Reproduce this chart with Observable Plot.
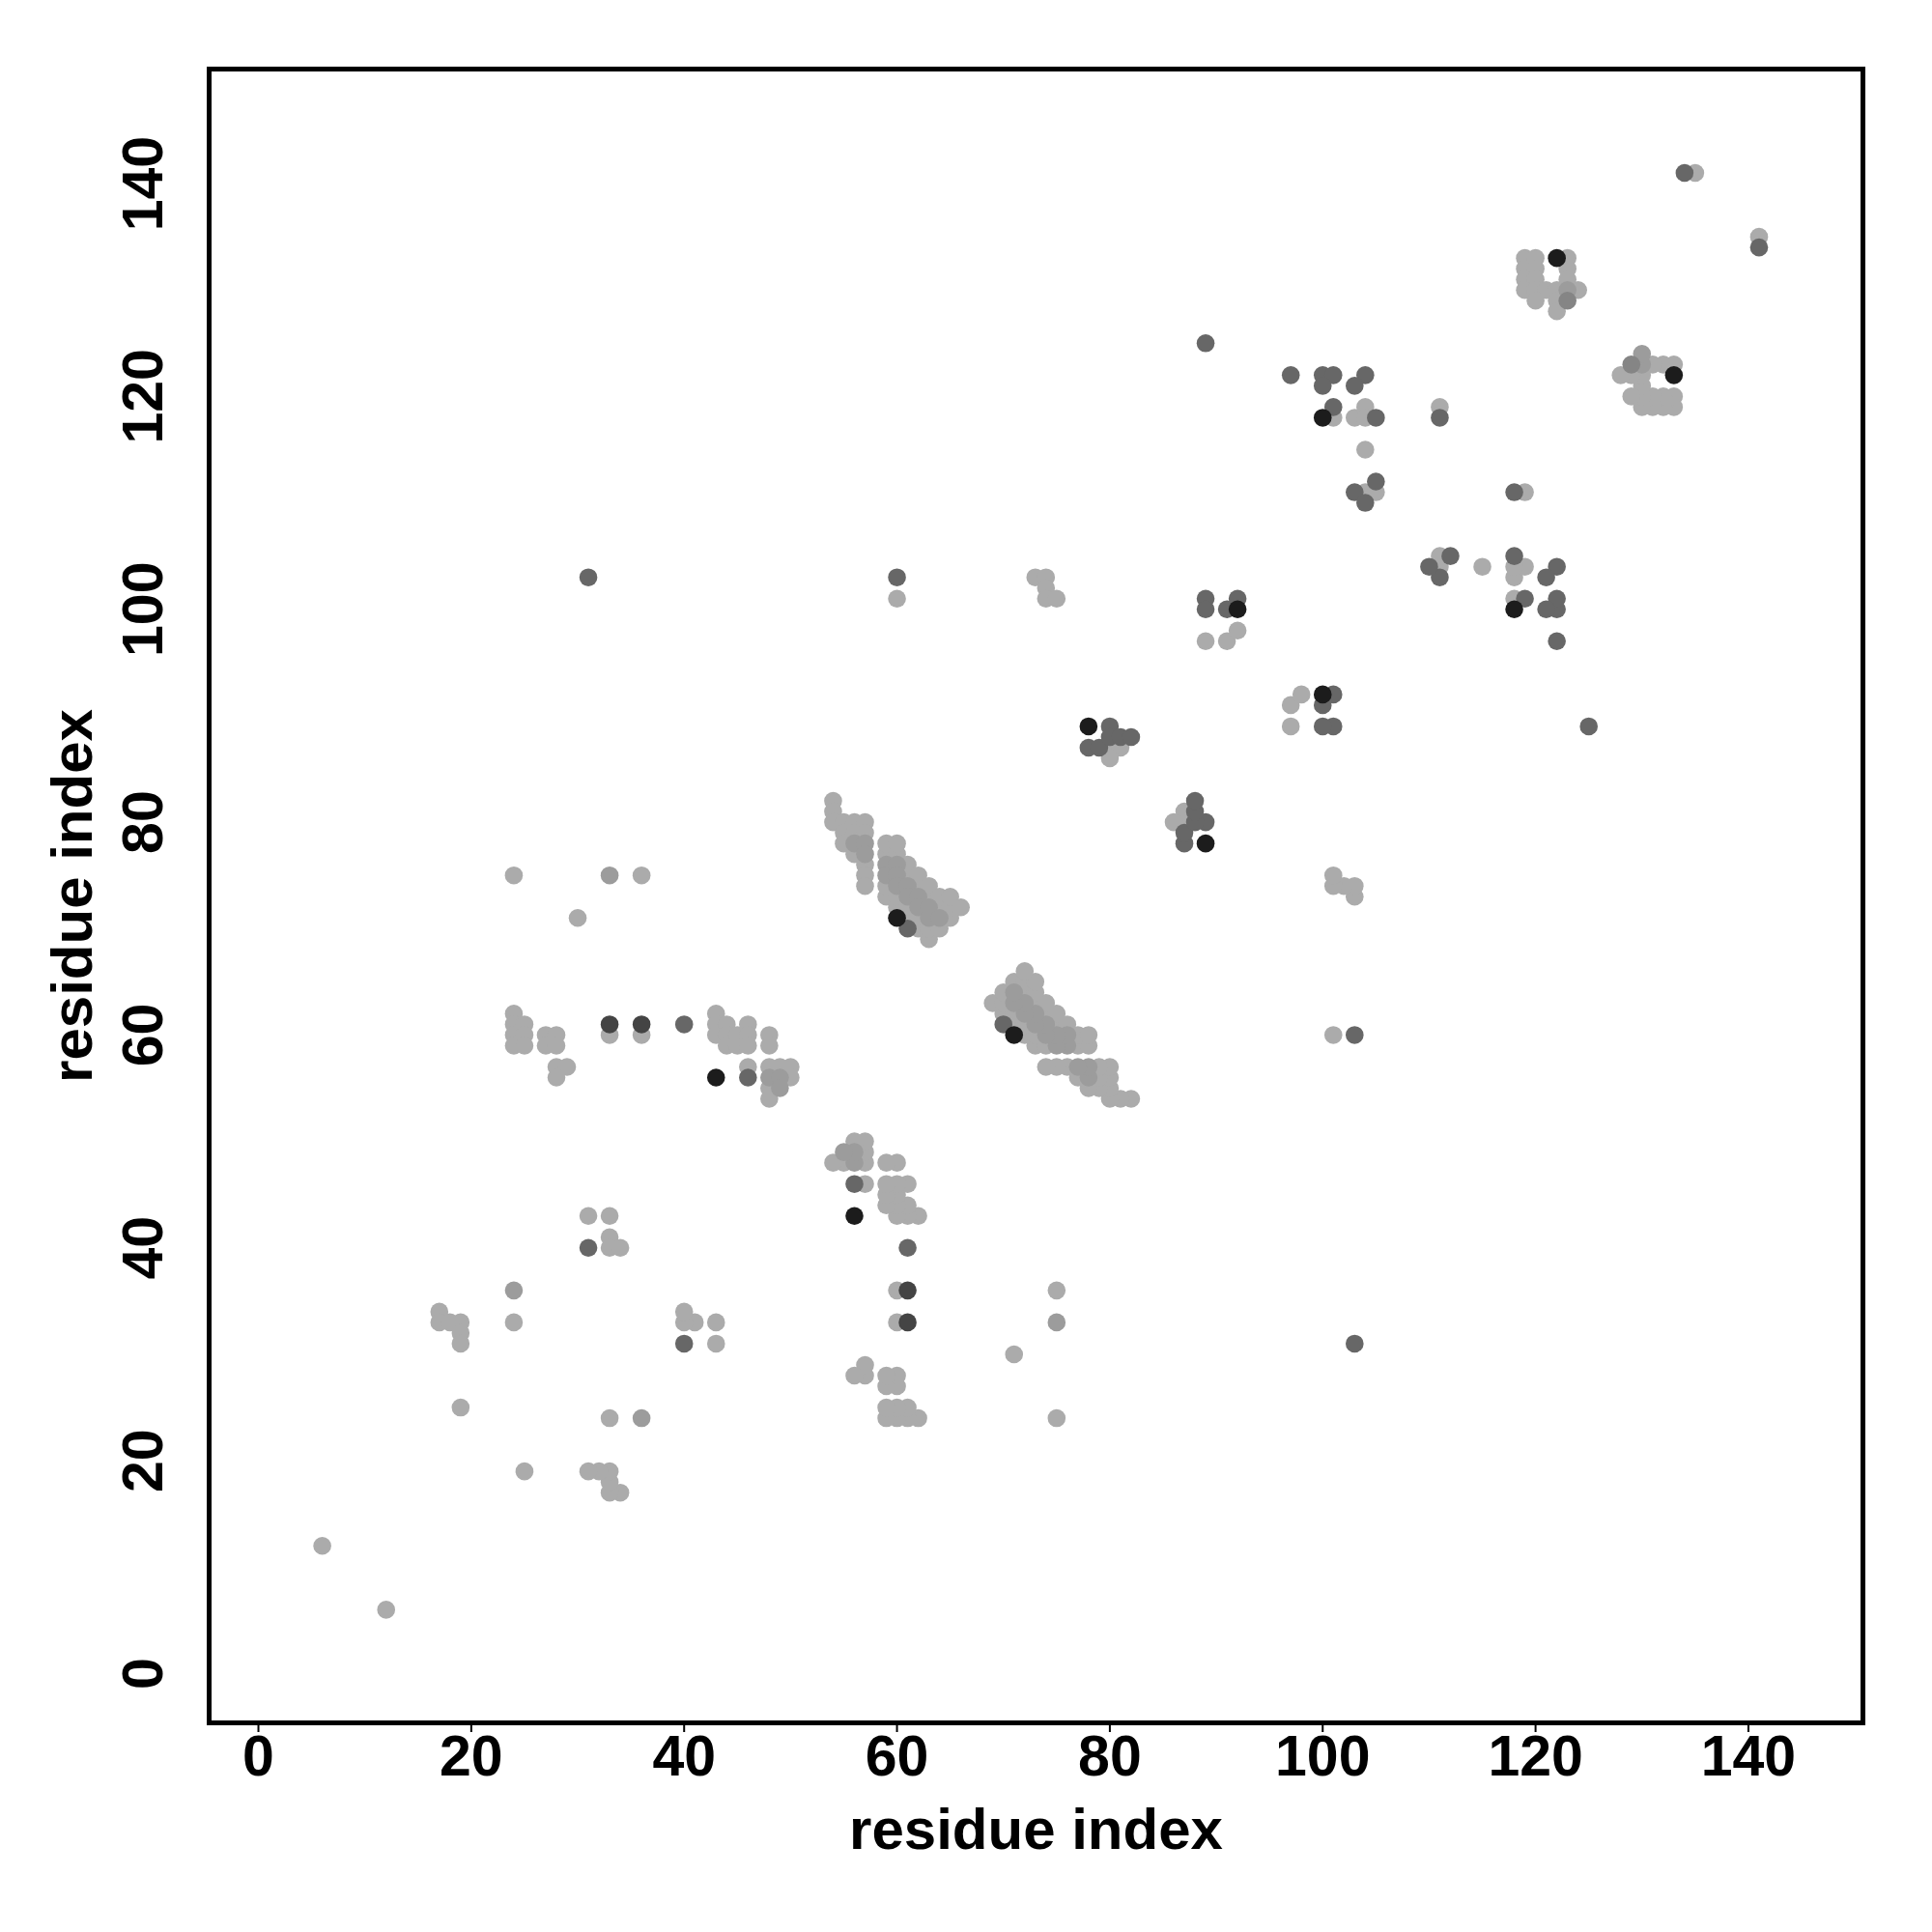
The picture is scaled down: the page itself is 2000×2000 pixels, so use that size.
<!DOCTYPE html>
<html>
<head>
<meta charset="utf-8">
<script src="https://cdn.jsdelivr.net/npm/d3@7"></script>
<script src="https://cdn.jsdelivr.net/npm/@observablehq/plot@0.6"></script>
<style>
  html, body { margin: 0; padding: 0; background: #ffffff; }
  #chart { width: 2000px; height: 2000px; }
</style>
</head>
<body>
<div id="chart"></div>
<script>
// ---- tick labels ----
const xTicks = [0, 20, 40, 60, 80, 100, 120, 140];
const yTicks = [0, 20, 40, 60, 80, 100, 120, 140];
const axisTitle = "residue index";

// ---- contacts, grouped by grey shade: [residue i, residue j] ----
const lightContacts = [
  [6,12],[12,6],[19,25],[25,19],[24,33],[33,24],
  [17,34],[17,33],[18,33],[19,33],[19,32],[19,31],
  [34,17],[33,17],[33,18],[33,19],[32,19],[31,19],
  [31,43],[33,43],[33,41],[33,40],[34,40],
  [43,31],[43,33],[41,33],[40,33],[40,34],
  [24,75],[36,75],[30,71],[75,24],[75,36],[71,30],
  [24,62],[24,61],[24,60],[24,59],[25,61],[25,60],[25,59],[27,60],[27,59],[28,60],[28,59],[28,57],[29,57],[28,56],
  [62,24],[61,24],[60,24],[59,24],[61,25],[60,25],[59,25],[60,27],[59,27],[60,28],[59,28],[57,28],[57,29],[56,28],
  [33,60],[36,60],[60,33],[60,36],
  [43,62],[43,61],[43,60],[44,61],[44,60],[44,59],[45,60],[45,59],[46,61],[46,60],[46,59],[48,60],[48,59],[46,57],[48,57],[49,57],[50,57],[50,56],[48,55],[48,54],
  [62,43],[61,43],[60,43],[61,44],[60,44],[59,44],[60,45],[59,45],[61,46],[60,46],[59,46],[60,48],[59,48],[57,46],[57,48],[57,49],[57,50],[56,50],[55,48],[54,48],
  // strand pairing block 54-66 / 69-82
  [54,82],[54,81],[54,80],[55,80],[55,79],[55,78],[56,80],[56,79],[56,77],[57,80],[57,79],[57,76],[57,75],[57,74],
  [59,73],[59,74],[59,77],[59,78],[60,72],[60,73],[60,77],[60,78],[61,71],[61,72],[61,75],[61,76],
  [62,70],[62,71],[62,74],[62,75],[63,69],[63,70],[63,73],[63,74],[64,70],[64,72],[64,73],[65,71],[65,72],[65,73],[66,72],
  [82,54],[81,54],[80,54],[80,55],[79,55],[78,55],[80,56],[79,56],[77,56],[80,57],[79,57],[76,57],[75,57],[74,57],
  [73,59],[74,59],[77,59],[78,59],[72,60],[73,60],[77,60],[78,60],[71,61],[72,61],[75,61],[76,61],
  [70,62],[71,62],[74,62],[75,62],[69,63],[70,63],[73,63],[74,63],[70,64],[72,64],[73,64],[71,65],[72,65],[73,65],[72,66],
  [60,101],[101,60],
  [73,103],[74,103],[74,102],[74,101],[75,101],[103,73],[103,74],[102,74],[101,74],[101,75],
  [80,87],[81,87],[80,86],[87,80],[87,81],[86,80],
  [89,97],[91,97],[92,98],[97,89],[97,91],[98,92],
  [101,118],[103,118],[104,119],[104,118],[118,101],[118,103],[119,104],[118,104],
  [111,119],[119,111],[104,115],[115,104],
  [104,111],[105,111],[111,104],[111,105],
  [135,141],[141,135],
  [119,133],[120,133],[123,133],[119,132],[120,132],[123,132],[119,131],[120,131],[123,131],
  [119,130],[120,130],[121,130],[122,130],[124,130],[120,129],[122,129],[122,128],
  [133,119],[133,120],[133,123],[132,119],[132,120],[132,123],[131,119],[131,120],[131,123],
  [130,119],[130,120],[130,121],[130,122],[129,120],[129,122],[128,122]
];

const mediumContacts = [
  [24,36],[36,24],[33,75],[75,33],
  [48,56],[49,56],[49,55],[56,48],[56,49],[55,49],
  [56,78],[57,78],[57,77],
  [59,76],[59,75],[60,76],[60,75],[60,74],[61,74],[61,73],[62,73],[62,72],[63,72],[63,71],[64,71],
  [78,56],[78,57],[77,57],
  [76,59],[75,59],[76,60],[75,60],[74,60],[74,61],[73,61],[73,62],[72,62],[72,63],[71,63],[71,64],
  [123,130],[130,123],[130,124]
];

const midDarkContacts = [
  [123,129],[129,123]
];

const darkContacts = [
  [31,40],[40,31],[40,61],[61,40],[46,56],[56,46],[61,70],[70,61],[31,103],[103,31],[60,103],[103,60],
  [89,101],[89,100],[91,100],[92,101],[101,89],[100,89],[100,91],[101,92],
  [80,89],[78,87],[79,87],[80,88],[81,88],[82,88],[89,80],[87,78],[87,79],[88,80],[88,81],[88,82],
  [89,125],[125,89],
  [97,122],[100,122],[101,122],[100,121],[104,122],[103,121],[101,119],[105,118],[111,118],
  [122,97],[122,100],[122,101],[121,100],[122,104],[121,103],[119,101],[118,105],[118,111],
  [105,112],[103,111],[104,110],[112,105],[111,103],[110,104],
  [134,141],[141,134]
];

const darkerContacts = [
  [33,61],[36,61],[61,33],[61,36]
];

const blackContacts = [
  [43,56],[56,43],[60,71],[71,60],[78,89],[89,78],[92,100],[100,92],[100,118],[118,100],[122,133],[133,122]
];

const FONT = "'Liberation Sans', Arial, Helvetica, sans-serif";
const R = 9.3;

function dots(data, color) {
  return Plot.dot(data, {x: d => d[0], y: d => d[1], r: R, fill: color, stroke: "none"});
}

const chart = Plot.plot({
  width: 2000,
  height: 2000,
  marginLeft: 216,
  marginRight: 72,
  marginTop: 71,
  marginBottom: 217,
  style: {background: "#ffffff", fontFamily: FONT},
  x: {domain: [-4.63, 150.76], label: null},
  y: {domain: [-4.63, 150.76], label: null},
  marks: [
    dots(lightContacts, "#ababab"),
    dots(mediumContacts, "#9c9c9c"),
    dots(midDarkContacts, "#858585"),
    dots(darkContacts, "#676767"),
    dots(darkerContacts, "#444444"),
    dots(blackContacts, "#1c1c1c"),
    Plot.axisX({ticks: xTicks, tickSize: 10, tickPadding: 3, tickFormat: d => String(d),
      fontSize: 59, fontWeight: "bold", fontFamily: FONT, stroke: "black", strokeWidth: 2, fill: "black", label: null}),
    Plot.axisY({ticks: yTicks, tickSize: 10, tickPadding: 57, tickFormat: d => String(d),
      rotate: -90, textAnchor: "middle",
      fontSize: 59, fontWeight: "bold", fontFamily: FONT, stroke: "black", strokeWidth: 2, fill: "black", label: null}),
    Plot.text([axisTitle], {frameAnchor: "bottom", dy: 130, lineAnchor: "bottom", textAnchor: "middle",
      fontSize: 60, fontWeight: "bold", fontFamily: FONT, fill: "black"}),
    Plot.text([axisTitle], {frameAnchor: "left", dx: -122, rotate: -90, lineAnchor: "bottom", textAnchor: "middle",
      fontSize: 60, fontWeight: "bold", fontFamily: FONT, fill: "black"}),
    Plot.frame({stroke: "black", strokeWidth: 5})
  ]
});
document.getElementById("chart").appendChild(chart);
</script>
</body>
</html>
